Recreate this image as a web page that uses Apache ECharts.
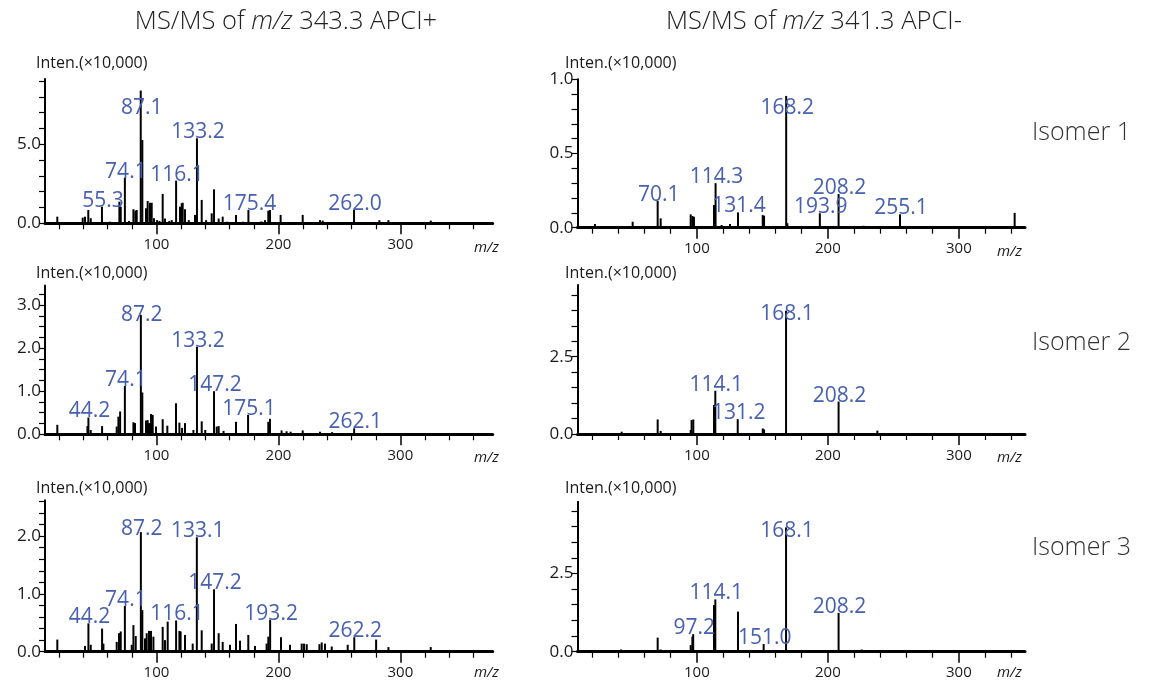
<!DOCTYPE html>
<html><head><meta charset="utf-8">
<script src="https://cdn.jsdelivr.net/npm/echarts@6/dist/echarts.min.js"></script>
<style>html,body{margin:0;padding:0;background:#fff}#c{width:1168px;height:681px}</style>
</head><body><div id="c"></div>
<script>
// ---------------- DATA ----------------
// [m/z, intensity (x10,000)]
const peaksPosIso1 = [[18.7,0.42],[30,0.06],[39.5,0.36],[41.4,0.42],[44.1,0.84],[46.1,0.32],[55.3,1.05],[62,0.1],[69.6,1.37],[70.7,1.05],[74.1,2.89],[77.5,0.15],[81.1,0.89],[82.7,0.8],[83.8,0.84],[87.1,8.4],[88.4,5.27],[91.4,0.95],[92.8,1.41],[94.7,1.3],[96.1,1.3],[98.0,0.32],[100.5,0.2],[102.5,0.15],[105.1,1.86],[107.0,0.3],[110.5,0.15],[112.5,0.2],[116.1,2.7],[119.3,1.05],[120.7,1.27],[121.5,1.3],[123.4,0.89],[126.5,0.2],[131.6,0.53],[133.2,5.38],[137.1,1.48],[140.7,0.2],[145.3,0.63],[147.2,2.15],[151.0,0.3],[154.3,0.42],[158,0.1],[165.2,0.53],[171,0.1],[175.4,0.84],[186,0.12],[189,0.2],[191.7,0.8],[193.1,0.84],[201.8,0.53],[219.9,0.53],[234.1,0.2],[236.3,0.17],[262.0,0.84],[282.8,0.2],[290.2,0.2],[324.9,0.17]];
const peaksPosIso2 = [[18.7,0.22],[43.4,0.19],[44.2,0.39],[46.1,0.1],[55.4,0.19],[67.4,0.18],[68.8,0.41],[70.2,0.53],[74.1,1.12],[81.1,0.28],[82.4,0.26],[87.2,2.77],[88.4,0.97],[91.4,0.32],[92.8,0.33],[93.9,0.26],[95.5,0.47],[96.9,0.45],[99.6,0.18],[105.1,0.35],[108.9,0.2],[116.0,0.72],[118.8,0.27],[121,0.15],[123.4,0.26],[130.3,0.1],[133.2,2.03],[137.1,0.3],[140,0.1],[147.2,1.0],[149.4,0.18],[151.0,0.19],[155,0.08],[165.2,0.29],[175.1,0.45],[191.7,0.29],[193.1,0.36],[202.6,0.09],[206.7,0.07],[210,0.06],[219.9,0.09],[234.1,0.06],[244,0.05],[262.1,0.14]];
const peaksPosIso3 = [[18.7,0.21],[41.4,0.1],[44.2,0.49],[46.1,0.12],[55.4,0.4],[56.5,0.14],[67.4,0.17],[69.3,0.32],[70.7,0.35],[74.1,0.79],[79.7,0.12],[81.1,0.46],[83.0,0.27],[87.2,2.07],[88.4,0.72],[90.6,0.23],[92.0,0.32],[93.9,0.36],[95.5,0.36],[97.5,0.26],[105.1,0.43],[107.0,0.2],[109.2,0.52],[116.1,0.54],[118.8,0.36],[119.8,0.35],[123.4,0.29],[129.7,0.14],[133.1,1.98],[137.1,0.37],[145.3,0.14],[147.2,1.08],[151.0,0.32],[154.3,0.17],[160.3,0.12],[165.2,0.48],[168.5,0.19],[175.3,0.29],[180.8,0.1],[190.3,0.14],[191.7,0.26],[193.2,0.55],[202.1,0.25],[209.5,0.12],[219.1,0.14],[221.0,0.14],[223.2,0.13],[233.6,0.13],[235.5,0.16],[238.2,0.14],[243.7,0.09],[256.8,0.12],[262.2,0.25],[280.1,0.21],[290.2,0.08],[324.9,0.08]];
const peaksNegIso1 = [[22.2,0.025],[51.0,0.04],[70.1,0.18],[72.4,0.063],[95.3,0.09],[96.6,0.079],[97.8,0.074],[113.1,0.153],[114.3,0.3],[118.9,0.018],[125.3,0.025],[131.4,0.103],[150.3,0.085],[151.3,0.081],[168.2,0.888],[169.1,0.03],[193.9,0.097],[208.2,0.227],[227.2,0.013],[237.3,0.01],[255.1,0.09],[342.6,0.1]];
const peaksNegIso2 = [[42.6,0.075],[70.1,0.47],[72.4,0.1],[95.3,0.13],[96.0,0.45],[97.3,0.47],[113.1,0.94],[114.1,1.4],[131.2,0.48],[150.3,0.18],[151.3,0.15],[168.1,3.99],[208.2,1.05],[237.8,0.11]];
const peaksNegIso3 = [[42.1,0.07],[70.1,0.45],[72.4,0.07],[95.3,0.21],[96.6,0.48],[97.2,0.56],[113.1,1.49],[114.1,1.67],[131.4,1.28],[151.0,0.245],[168.1,3.97],[182.1,0.05],[208.2,1.24],[225.9,0.07]];

// peak annotation labels (m/z of annotated peaks)
const labelsPosIso1 = ['55.3','74.1','87.1','116.1','133.2','175.4','262.0'];
const labelsPosIso2 = ['44.2','74.1','87.2','133.2','147.2','175.1','262.1'];
const labelsPosIso3 = ['44.2','74.1','87.2','116.1','133.1','147.2','193.2','262.2'];
const labelsNegIso1 = ['70.1','114.3','131.4','168.2','193.9','208.2','255.1'];
const labelsNegIso2 = ['114.1','131.2','168.1','208.2'];
const labelsNegIso3 = ['97.2','114.1','151.0','168.1','208.2'];

// axis ticks / tick labels
const xMajorTicks = [100, 200, 300];
const xMinorTicksPos = [20,40,60,80,120,140,160,180,220,240,260,280,320,340,360];
const xMinorTicksNeg = [20,40,60,80,120,140,160,180,220,240,260,280,320,340];
const yTicksPos1 = [0,1,2,3,4,5,6,7,8,9];
const yLabelsPos1 = [0,5];
const yTicksPos2 = [0,0.25,0.5,0.75,1,1.25,1.5,1.75,2,2.25,2.5,2.75,3,3.25];
const yLabelsPos2 = [0,1,2,3];
const yTicksPos3 = [0,0.2,0.4,0.6,0.8,1,1.2,1.4,1.6,1.8,2,2.2,2.4,2.6];
const yLabelsPos3 = [0,1,2];
const yTicksNeg1 = [0,0.1,0.2,0.3,0.4,0.5,0.6,0.7,0.8,0.9,1.0];
const yLabelsNeg1 = [0,0.5,1.0];
const yTicksNeg2 = [0,0.5,1,1.5,2,2.5,3,3.5,4,4.5];
const yLabelsNeg2 = [0,2.5];
const yTicksNeg3 = [0,0.5,1,1.5,2,2.5,3,3.5,4,4.5];
const yLabelsNeg3 = [0,2.5];

// ---------------- CHART ----------------
const FONT = '"Open Sans", "Noto Sans", sans-serif';
const BLUE = '#4760b0';
const panels = [
  {peaks: peaksPosIso1, labels: labelsPosIso1, yt: yTicksPos1, yl: yLabelsPos1, ymax: 9.13, xmin: 8.6, xmax: 375.7, minor: xMinorTicksPos, grid: {left: 45, top: 79, width: 447.7, height: 144.3}},
  {peaks: peaksNegIso1, labels: labelsNegIso1, yt: yTicksNeg1, yl: yLabelsNeg1, ymax: 1.0, xmin: 8.9, xmax: 350.5, minor: xMinorTicksNeg, grid: {left: 577.5, top: 79.3, width: 447.5, height: 148.4}},
  {peaks: peaksPosIso2, labels: labelsPosIso2, yt: yTicksPos2, yl: yLabelsPos2, ymax: 3.45, xmin: 8.6, xmax: 375.7, minor: xMinorTicksPos, grid: {left: 45, top: 285.6, width: 447.7, height: 148.7}},
  {peaks: peaksNegIso2, labels: labelsNegIso2, yt: yTicksNeg2, yl: yLabelsNeg2, ymax: 4.82, xmin: 8.9, xmax: 350.5, minor: xMinorTicksNeg, grid: {left: 577.5, top: 285, width: 447.5, height: 149}},
  {peaks: peaksPosIso3, labels: labelsPosIso3, yt: yTicksPos3, yl: yLabelsPos3, ymax: 2.62, xmin: 8.6, xmax: 375.7, minor: xMinorTicksPos, grid: {left: 45, top: 500.3, width: 447.7, height: 151.4}},
  {peaks: peaksNegIso3, labels: labelsNegIso3, yt: yTicksNeg3, yl: yLabelsNeg3, ymax: 4.79, xmin: 8.9, xmax: 350.5, minor: xMinorTicksNeg, grid: {left: 577.5, top: 501.7, width: 447.5, height: 150}}
];

const grid = [], xAxis = [], yAxis = [], series = [];
panels.forEach((p, i) => {
  grid.push(Object.assign({containLabel: false}, p.grid));
  xAxis.push({
    type: 'value', gridIndex: i, min: p.xmin, max: p.xmax, position: 'bottom', offset: 0,
    axisLine: {show: true, onZero: false, lineStyle: {color: '#000', width: 3}},
    axisTick: {show: true, customValues: xMajorTicks, length: 11, lineStyle: {color: '#000', width: 1.5}},
    axisLabel: {show: true, customValues: xMajorTicks, margin: 14, fontSize: 15, color: '#1a1a1a', fontFamily: FONT},
    splitLine: {show: false}
  });
  xAxis.push({
    type: 'value', gridIndex: i, min: p.xmin, max: p.xmax, position: 'bottom', offset: 0,
    axisLine: {show: false},
    axisTick: {show: true, customValues: p.minor, length: 6, lineStyle: {color: '#000', width: 1.2}},
    axisLabel: {show: false},
    splitLine: {show: false}
  });
  yAxis.push({
    type: 'value', gridIndex: i, min: 0, max: p.ymax,
    axisLine: {show: true, lineStyle: {color: '#000', width: 2}},
    axisTick: {show: true, customValues: p.yt, length: 6, lineStyle: {color: '#000', width: 1.2}},
    axisLabel: {show: true, customValues: p.yl, margin: 4, fontSize: 17, color: '#1a1a1a', fontFamily: FONT,
      formatter: v => v.toFixed(1)},
    splitLine: {show: false}
  });
  series.push({
    type: 'bar', xAxisIndex: 2 * i, yAxisIndex: i, data: p.peaks, barWidth: 2,
    itemStyle: {color: '#000'}, silent: true, animation: false, z: 2
  });
  const texts = p.labels;
  const ldata = texts.map(t => {
    const mz = parseFloat(t);
    let best = p.peaks[0];
    p.peaks.forEach(pk => { if (Math.abs(pk[0] - mz) < Math.abs(best[0] - mz)) best = pk; });
    return [mz, best[1]];
  });
  series.push({
    type: 'custom', xAxisIndex: 2 * i, yAxisIndex: i, data: ldata, animation: false, z: 5, clip: false,
    encode: {x: 0, y: 1},
    renderItem: function (params, api) {
      const pt = api.coord([api.value(0), api.value(1)]);
      const top = params.coordSys.y;
      const y = Math.max(pt[1] - 6, top + 29);
      return {
        type: 'text', x: pt[0] + 1, y: y,
        style: {text: texts[params.dataIndex], fill: BLUE, fontSize: 21, fontFamily: FONT,
          align: 'center', verticalAlign: 'middle'}
      };
    }
  });
});

function txt(x, y, text, opts) {
  return {type: 'text', x: x, y: y, silent: true,
    style: Object.assign({text: text, fill: '#1a1a1a', fontFamily: FONT, fontSize: 16, align: 'left', verticalAlign: 'middle'}, opts || {})};
}
const graphic = [
  txt(286, 22, 'MS/MS of {i|m/z} 343.3 APCI+', {fontSize: 25.5, fontWeight: 300, align: 'center', fill: '#222',
    rich: {i: {fontStyle: 'italic', fontSize: 25.5, fontWeight: 300, fontFamily: FONT, fill: '#222'}}}),
  txt(814, 22, 'MS/MS of {i|m/z} 341.3 APCI-', {fontSize: 25.5, fontWeight: 300, align: 'center', fill: '#222',
    rich: {i: {fontStyle: 'italic', fontSize: 25.5, fontWeight: 300, fontFamily: FONT, fill: '#222'}}}),
  txt(36, 63, 'Inten.(×10,000)'), txt(565, 63, 'Inten.(×10,000)'),
  txt(36, 273, 'Inten.(×10,000)'), txt(565, 273, 'Inten.(×10,000)'),
  txt(36, 488, 'Inten.(×10,000)'), txt(565, 488, 'Inten.(×10,000)'),
  txt(474, 248, 'm/z', {fontStyle: 'italic', fontSize: 15}), txt(997, 252, 'm/z', {fontStyle: 'italic', fontSize: 15}),
  txt(474, 458, 'm/z', {fontStyle: 'italic', fontSize: 15}), txt(997, 458, 'm/z', {fontStyle: 'italic', fontSize: 15}),
  txt(474, 673, 'm/z', {fontStyle: 'italic', fontSize: 15}), txt(997, 673, 'm/z', {fontStyle: 'italic', fontSize: 15}),
  txt(1032, 133, 'Isomer 1', {fontSize: 25, fontWeight: 300, fill: '#333'}),
  txt(1032, 343, 'Isomer 2', {fontSize: 25, fontWeight: 300, fill: '#333'}),
  txt(1032, 548, 'Isomer 3', {fontSize: 25, fontWeight: 300, fill: '#333'})
];

const chart = echarts.init(document.getElementById('c'), null, {renderer: 'canvas'});
chart.setOption({animation: false, backgroundColor: '#fff', grid, xAxis, yAxis, series, graphic});
</script>
</body></html>
